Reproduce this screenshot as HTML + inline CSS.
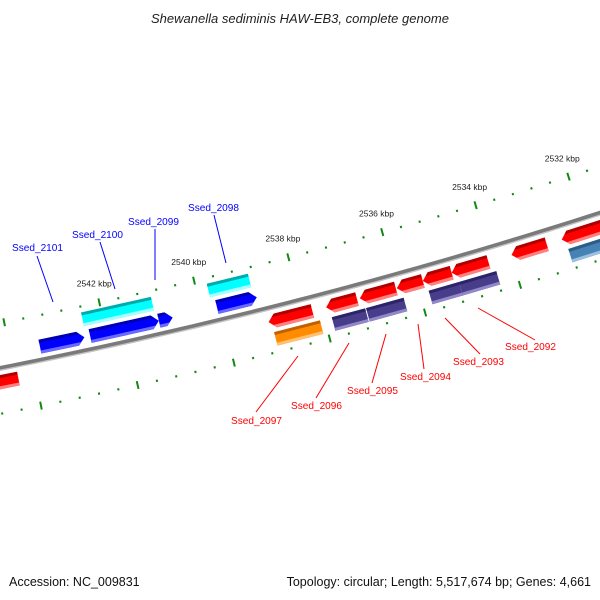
<!DOCTYPE html>
<html><head><meta charset="utf-8"><style>
html,body{margin:0;padding:0;background:#fff;}
svg{display:block;}
text{font-family:"Liberation Sans","DejaVu Sans",sans-serif;}
</style></head><body>
<svg id="chart" width="600" height="600" viewBox="0 0 600 600" xmlns="http://www.w3.org/2000/svg">
<rect width="600" height="600" fill="#fff"/>
<text x="300" y="23" text-anchor="middle" font-size="13" font-style="italic" fill="#222">Shewanella sediminis HAW-EB3, complete genome</text>
<g id="ticks"></g>
<g id="backbone"></g>
<g id="genes"></g>
<g id="labels"></g>
<text x="9" y="586" font-size="12.5" fill="#111">Accession: NC_009831</text>
<text x="591" y="586" text-anchor="end" font-size="12.5" fill="#111">Topology: circular; Length: 5,517,674 bp; Genes: 4,661</text>
</svg>
<script>
// ---- data ----
const geneNames  = ['Ssed_2101','Ssed_2100','Ssed_2099','Ssed_2098','Ssed_2100c','Ssed_2098c','g_r0','Ssed_2097','Ssed_2096','Ssed_2095','Ssed_2094','Ssed_2093','Ssed_2092','g_r7','g_r8','Ssed_2097o','Ssed_2096p','Ssed_2095p','Ssed_2093p','Ssed_2092p','g_s1'];
const geneStart  = [2543.38,2542.33,2540.89,2539.67,2542.41,2539.76,2544.37,2538.72,2537.51,2536.80,2536.02,2535.47,2534.86,2533.59,2532.52,2538.66,2537.45,2536.73,2535.41,2534.77,2532.45];
const geneEnd    = [2542.45,2540.89,2540.60,2538.83,2540.94,2538.89,2543.94,2537.80,2536.86,2536.04,2535.47,2534.86,2534.08,2532.84,2531.40,2537.70,2536.75,2535.94,2534.77,2533.98,2531.40];
const geneLane   = [-1,-1,-1,-1,-2,-2,1,1,1,1,1,1,1,1,1,2,2,2,2,2,2];
const geneStrand = [1,1,1,1,0,0,0,-1,-1,-1,-1,-1,-1,-1,-1,0,0,0,0,0,0];
const geneType   = ['cds','cds','cds','cds','rna','rna','cds-r','cds-r','cds-r','cds-r','cds-r','cds-r','cds-r','cds-r','cds-r','cog-o','cog-p','cog-p','cog-p','cog-p','cog-s'];
const tickStartUpper = 2530.0, tickEndUpper = 2546.0;
const tickStartLower = 2529.6, tickEndLower = 2545.6;
const tickStep = 0.4;
const labelNames = ['Ssed_2101','Ssed_2100','Ssed_2099','Ssed_2098','Ssed_2097','Ssed_2096','Ssed_2095','Ssed_2094','Ssed_2093','Ssed_2092'];

// ---- geometry ----
const R = 5300, Cx = -1025, Cy = -4832, a0 = Math.atan2(0.968,0.25);
function uOf(kbp){ return (2538 - kbp)*49 - 1; }
function PU(u, v){ const a = a0 - u/R, r = R + v; return [Cx + r*Math.cos(a), Cy + r*Math.sin(a)]; }
function P(kbp, v){ return PU(uOf(kbp), v); }
const NS='http://www.w3.org/2000/svg';
function mk(tag, attrs, parent){ const e=document.createElementNS(NS,tag); for(const k in attrs) e.setAttribute(k,attrs[k]); parent.appendChild(e); return e; }
function pts(a){ return a.map(p=>p[0].toFixed(2)+','+p[1].toFixed(2)).join(' '); }

// backbone
const bb = document.getElementById('backbone');
let bpts=[]; for(let k=2547;k>=2529;k-=0.25) bpts.push(P(k,0));
let bl = mk('polyline',{points:pts(bpts),fill:'none',stroke:'#7a7a7a','stroke-width':4},bb);


let bpts2=[]; for(let k=2547;k>=2529;k-=0.25) bpts2.push(P(k,2.3));
let bl2 = mk('polyline',{points:pts(bpts2),fill:'none',stroke:'#c4c4c4','stroke-width':1.4},bb);



// ticks
const tg = document.getElementById('ticks');
function drawTicks(start,end,v,row,majorRef){
  for(let k=start;k<=end+1e-6;k+=tickStep){
    const q=(majorRef-k)/2;
    const isMajor = Math.abs(q - Math.round(q))<1e-3;
    if(isMajor){
      const p1=P(k,v-4), p2=P(k,v+4);
      const t=mk('line',{x1:p1[0],y1:p1[1],x2:p2[0],y2:p2[1],stroke:'#118811','stroke-width':2},tg);
      
      
      const lp=P(k,v-14);
      if(row==='upper' && lp[0]>25 && lp[0]<590){
        const tx=mk('text',{x:lp[0]-2,y:lp[1]-2,'text-anchor':'middle','font-size':8.5,fill:'#222'},tg);
        tx.textContent=Math.round(k)+' kbp';
        
        
      }
    } else {
      const p1=P(k,v-1), p2=P(k,v+1.2);
      const t=mk('line',{x1:p1[0],y1:p1[1],x2:p2[0],y2:p2[1],stroke:'#118811','stroke-width':2},tg);
      
      
    }
  }
}
drawTicks(tickStartUpper,tickEndUpper,-44,'upper',2538);
drawTicks(tickStartLower,tickEndLower,45,'lower',2537.6);

// genes
const colors = {
  'cds':['#0000b0','#0000ff','#6a6aff'],
  'rna':['#00aaaa','#00ffff','#a8ffff'],
  'cds-r':['#b00000','#ff0000','#ff8080'],
  'cog-o':['#c06000','#ff8c00','#ffc070'],
  'cog-p':['#2c2468','#483d8b','#9088c8'],
  'cog-s':['#2c5c88','#4682b4','#9cc0e0']
};
const laneV = {'-2':-31,'-1':-13,'1':14,'2':32};
const gg = document.getElementById('genes');
const H = 7;
for(let i=0;i<geneStart.length;i++){
  const vc = laneV[geneLane[i]], vt=vc-7, vb=vc+7;
  const uL = uOf(geneStart[i]), uR = uOf(geneEnd[i]);
  const s = geneStrand[i];
  function hx(v){ return H*Math.abs(v-vc)/(vb-vc); }
  function shape(t,b){
    if(s===1){
      const a=[PU(uL,t),PU(uR-hx(t),t)];
      if(t<vc && b>vc) a.push(PU(uR,vc));
      a.push(PU(uR-hx(b),b),PU(uL,b));
      return a;
    } else if(s===-1){
      const a=[PU(uR,t),PU(uL+hx(t),t)];
      if(t<vc && b>vc) a.push(PU(uL,vc));
      a.push(PU(uL+hx(b),b),PU(uR,b));
      return a;
    }
    return [PU(uL,t),PU(uR,t),PU(uR,b),PU(uL,b)];
  }
  const c = colors[geneType[i]];
  const g = mk('g',{},gg);
  
  
  mk('polygon',{points:pts(shape(vt,vb)),fill:c[1]},g);
  mk('polygon',{points:pts(shape(vt,vt+3)),fill:c[0]},g);
  mk('polygon',{points:pts(shape(vb-3,vb)),fill:c[2]},g);
}

// labels (annotation positions)
const lg = document.getElementById('labels');
const labelText = [[12,251],[72,238],[128,225],[188,211],[231,424],[291,409],[347,394],[400,380],[453,365],[505,350]];
const labelLine = [[37,256,53,302],[100,242,115,289],[155,229,155,280],[214,215,226,263],[298,356,256,412],[349,343,316,398],[386,334,372,383],[418,324,424,369],[445,318,480,354],[478,308,535,340]];
for(let i=0;i<labelNames.length;i++){
  const col = i<4 ? '#0000ff' : '#ff0000';
  const L=labelLine[i];
  const ln=mk('line',{x1:L[0],y1:L[1],x2:L[2],y2:L[3],stroke:col,'stroke-width':1},lg);
  
  
  const t=mk('text',{x:labelText[i][0],y:labelText[i][1],'font-size':10.5,fill:col,textLength:51,lengthAdjust:'spacingAndGlyphs'},lg);
  t.textContent=labelNames[i];
  
  
}
</script>
</body></html>
